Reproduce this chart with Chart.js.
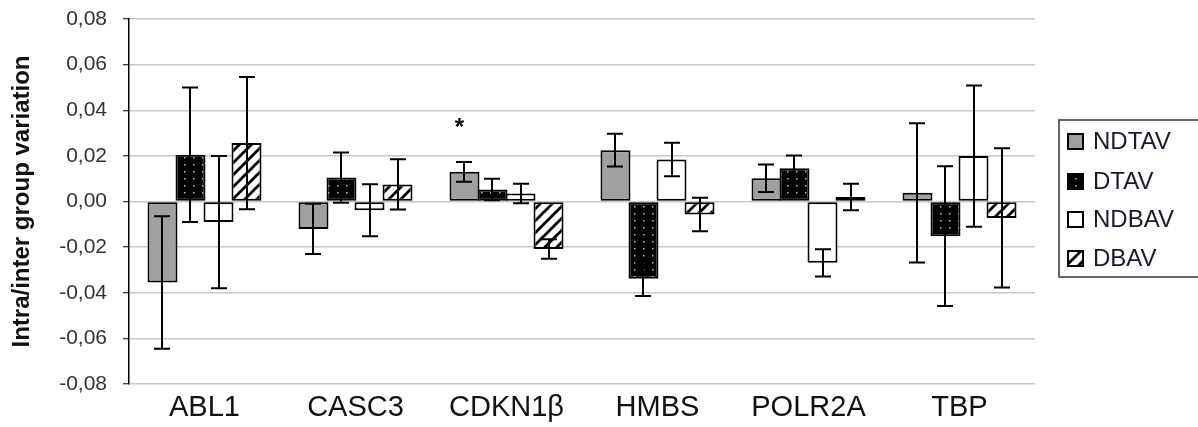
<!DOCTYPE html>
<html>
<head>
<meta charset="utf-8">
<script src="https://cdn.jsdelivr.net/npm/chart.js@4/dist/chart.umd.min.js"></script>
<style>
  html, body { margin: 0; padding: 0; background: #fff; }
  #wrap { width: 1198px; height: 427px; }
</style>
</head>
<body>
<div id="wrap"><canvas id="chart" width="1198" height="427"></canvas></div>
<script>
// Genes and group values
const categories = ['ABL1', 'CASC3', 'CDKN1β', 'HMBS', 'POLR2A', 'TBP'];
const yTicks = [0.08, 0.06, 0.04, 0.02, 0, -0.02, -0.04, -0.06, -0.08];

const ndtav = [-0.0355, -0.012, 0.013, 0.0225, 0.0102, 0.0038];
const ndtavErr = [0.029, 0.011, 0.0043, 0.0072, 0.006, 0.0305];
const dtav = [0.0205, 0.0105, 0.0053, -0.0339, 0.0146, -0.0152];
const dtavErr = [0.0295, 0.011, 0.0047, 0.0075, 0.0056, 0.0306];
const ndbav = [-0.009, -0.0038, 0.0035, 0.0184, -0.0269, 0.0199];
const ndbavErr = [0.029, 0.0114, 0.0043, 0.0073, 0.006, 0.031];
const dbav = [0.0256, 0.0075, -0.0208, -0.0057, 0.002, -0.0072];
const dbavErr = [0.029, 0.011, 0.0043, 0.0073, 0.0058, 0.0305];

// significance mark above CDKN1β
const starCategory = 'CDKN1β';
const starValue = 0.0342;

const FONT = '"Liberation Sans", Arial, sans-serif';

// fill patterns
function dotPattern() {
    const c = document.createElement('canvas');
    c.width = 9; c.height = 7;
    const g = c.getContext('2d');
    g.fillStyle = '#000';
    g.fillRect(0, 0, 9, 7);
    g.fillStyle = '#bbb';
    g.fillRect(4, 3, 1.5, 1.5);
    return g.createPattern(c, 'repeat');
}

function hatchPattern() {
    const s = 12;
    const c = document.createElement('canvas');
    c.width = s; c.height = s;
    const g = c.getContext('2d');
    g.fillStyle = '#fff';
    g.fillRect(0, 0, s, s);
    g.strokeStyle = '#000';
    g.lineWidth = 2.8;
    g.beginPath();
    g.moveTo(-2, s + 2); g.lineTo(s + 2, -2);
    g.moveTo(-2, 2); g.lineTo(2, -2);
    g.moveTo(s - 2, s + 2); g.lineTo(s + 2, s - 2);
    g.stroke();
    return g.createPattern(c, 'repeat');
}

const errorLists = [ndtavErr, dtavErr, ndbavErr, dbavErr];

// error bars, asterisk and the framed legend
const extrasPlugin = {
    id: 'extras',
    afterDatasetsDraw(chart) {
        const ctx = chart.ctx;
        const y = chart.scales.y;
        ctx.save();
        ctx.strokeStyle = '#000';
        ctx.lineWidth = 2;
        chart.data.datasets.forEach(function(ds, i) {
            const meta = chart.getDatasetMeta(i);
            meta.data.forEach(function(bar, j) {
                const v = ds.data[j];
                const e = errorLists[i][j];
                const top = y.getPixelForValue(v + e);
                const bot = y.getPixelForValue(v - e);
                const x = Math.round(bar.x);
                ctx.beginPath();
                ctx.moveTo(x, top); ctx.lineTo(x, bot);
                ctx.moveTo(x - 8, top); ctx.lineTo(x + 8, top);
                ctx.moveTo(x - 8, bot); ctx.lineTo(x + 8, bot);
                ctx.stroke();
            });
        });
        const idx = categories.indexOf(starCategory);
        const sx = chart.getDatasetMeta(0).data[idx].x - 5;
        ctx.fillStyle = '#000';
        ctx.font = 'bold 24px ' + FONT;
        ctx.textAlign = 'center';
        ctx.textBaseline = 'middle';
        ctx.fillText('*', sx, y.getPixelForValue(starValue) + 5);
        ctx.restore();
    },
    afterDraw(chart) {
        const ctx = chart.ctx;
        ctx.save();
        ctx.strokeStyle = '#333';
        ctx.lineWidth = 1.5;
        ctx.strokeRect(1059, 120, 150, 157);
        const rowY = [141, 181, 219, 258];
        ctx.font = '24px ' + FONT;
        ctx.textBaseline = 'middle';
        ctx.textAlign = 'left';
        chart.data.datasets.forEach(function(ds, i) {
            const cy = rowY[i];
            ctx.fillStyle = ds.backgroundColor;
            ctx.fillRect(1068, cy - 7, 15, 15);
            ctx.strokeStyle = '#000';
            ctx.lineWidth = 2;
            ctx.strokeRect(1068, cy - 7, 15, 15);
            ctx.fillStyle = '#1a1a2a';
            ctx.fillText(ds.label, 1093, cy + 1);
        });
        ctx.restore();
    }
};

const ctx = document.getElementById('chart').getContext('2d');

const chart = new Chart(ctx, {
    type: 'bar',
    data: {
        labels: categories,
        datasets: [
            { label: 'NDTAV', data: ndtav, backgroundColor: '#a0a0a0' },
            { label: 'DTAV', data: dtav, backgroundColor: dotPattern() },
            { label: 'NDBAV', data: ndbav, backgroundColor: '#ffffff' },
            { label: 'DBAV', data: dbav, backgroundColor: hatchPattern() }
        ]
    },
    options: {
        responsive: false,
        animation: false,
        layout: { padding: { top: 19, right: 163, bottom: 0, left: 0 } },
        datasets: {
            bar: {
                borderColor: '#000',
                borderWidth: 2,
                borderSkipped: false,
                categoryPercentage: 0.742,
                barPercentage: 1.07
            }
        },
        plugins: {
            legend: { display: false },
            tooltip: { enabled: false }
        },
        scales: {
            x: {
                afterFit(axis) {
                    axis.height = 43;
                    axis.paddingLeft = 0;
                    axis.paddingRight = 0;
                },
                grid: { display: false, drawTicks: false },
                border: { display: false },
                ticks: {
                    color: '#111',
                    padding: 7,
                    font: { family: FONT, size: 29 }
                }
            },
            y: {
                min: -0.08,
                max: 0.08,
                afterFit(axis) {
                    axis.width = 129;
                    axis.paddingTop = 0;
                    axis.paddingBottom = 0;
                },
                afterBuildTicks(axis) {
                    axis.ticks = yTicks.map(v => ({ value: v }));
                },
                grid: {
                    color: '#c8c8c8',
                    lineWidth: 1.5,
                    tickColor: '#000',
                    tickLength: 6,
                    tickWidth: 1
                },
                border: { color: '#000', width: 1.5 },
                ticks: {
                    color: '#333',
                    padding: 16,
                    font: { family: FONT, size: 21 },
                    callback: function(v) {
                        return v.toFixed(2).replace('.', ',');
                    }
                },
                title: {
                    display: true,
                    text: 'Intra/inter group variation',
                    color: '#111',
                    padding: { top: 8, bottom: 0 },
                    font: { family: FONT, size: 24, weight: 'bold' }
                }
            }
        }
    },
    plugins: [extrasPlugin]
});
</script>
</body>
</html>
